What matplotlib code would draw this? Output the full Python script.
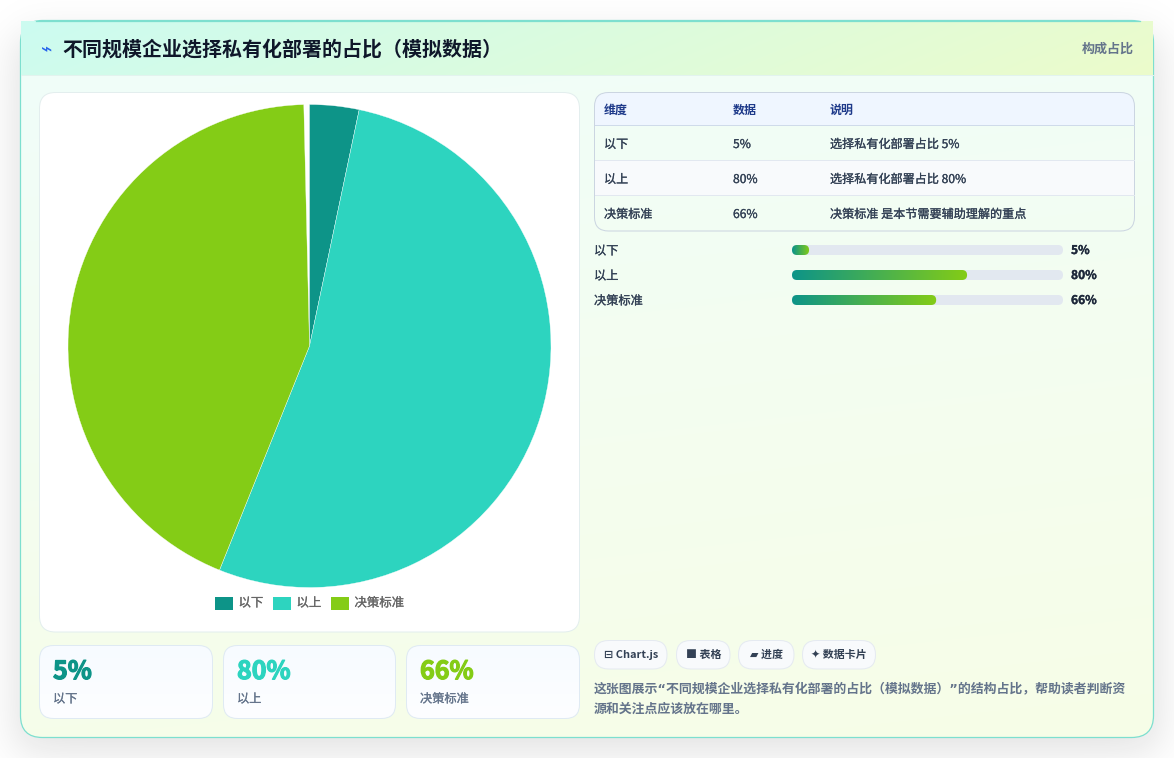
import numpy as np
import matplotlib
matplotlib.use('Agg')
import matplotlib.pyplot as plt
import matplotlib.patheffects as pe
from matplotlib.colors import to_rgb
from matplotlib.patches import FancyBboxPatch, Rectangle

plt.rcParams['font.family'] = ['Noto Sans CJK SC', 'DejaVu Sans']

# data
categories = ['以下', '以上', '决策标准']
values = [5, 80, 66]
value_labels = ['5%', '80%', '66%']
pie_total = 151.57  # slices stop just short of the full circle in the reference
bar_fill = [6.3, 64.6, 53.2]  # drawn fill length, % of the track
colors = ['#0d9488', '#2dd4bf', '#84cc16']
table_head = ['维度', '数据', '说明']
table_notes = ['选择私有化部署占比 5%', '选择私有化部署占比 80%', '决策标准 是本节需要辅助理解的重点']
chips = ['⊟ Chart.js', '■ 表格', '▰ 进度', '✦ 数据卡片']
title = '不同规模企业选择私有化部署的占比（模拟数据）'
note_lines = ['这张图展示“不同规模企业选择私有化部署的占比（模拟数据）”的结构占比，帮助读者判断资',
              '源和关注点应该放在哪里。']

W, H = 1174, 758
fig = plt.figure(figsize=(W / 100, H / 100), dpi=100, facecolor='white')
ax = fig.add_axes([0, 0, 1, 1])
ax.set_xlim(0, W)
ax.set_ylim(H, 0)
ax.axis('off')


def px(size):
    return size * 0.72


def rbox(x0, y0, x1, y1, r, fc='none', ec='none', lw=0.72, z=2):
    p = FancyBboxPatch((x0, y0), x1 - x0, y1 - y0, boxstyle=f'round,pad=0,rounding_size={r}',
                       fc=fc, ec=ec, lw=lw, zorder=z)
    ax.add_patch(p)
    return p


def gradient(x0, y0, x1, y1, c0, c1, wx, wy, clip=None, z=2):
    # wx, wy set the direction of the gradient
    nx, ny = max(int(x1 - x0), 2), max(int(y1 - y0), 2)
    xx, yy = np.meshgrid(np.linspace(0, 1, nx), np.linspace(0, 1, ny))
    t = ((xx * wx + yy * wy) / (wx + wy))[..., None]
    img = np.array(to_rgb(c0)) * (1 - t) + np.array(to_rgb(c1)) * t
    im = ax.imshow(img, extent=(x0, x1, y1, y0), aspect='auto', zorder=z, interpolation='bilinear')
    if clip is not None:
        im.set_clip_path(clip)
    return im


def mid_text(x, y, s, size, color, **kw):
    # medium weight is not installed, thicken the regular one a little
    t = ax.text(x, y, s, fontsize=px(size), color=color, va='center', zorder=4, **kw)
    t.set_path_effects([pe.withStroke(linewidth=0.18, foreground=color)])
    return t


# soft shadow under the card
xx, yy = np.meshgrid(np.arange(W), np.arange(H))
s = 13.0
shadow = (1 / (1 + np.exp(-(xx - 16) / s))) * (1 / (1 + np.exp((xx - 1158) / s))) \
    * (1 / (1 + np.exp(-(yy - 36) / s))) * (1 / (1 + np.exp((yy - 750) / s)))
rgba = np.zeros((H, W, 4))
rgba[..., :3] = 0.06
rgba[..., 3] = shadow * 0.13
ax.imshow(rgba, extent=(0, W, H, 0), aspect='auto', zorder=0)

# card
card = rbox(20.5, 20.5, 1153.5, 737.5, 22, fc='none', z=1)
gradient(20, 20, 1154, 738, '#f0fdfa', '#f7fee7', 0.15, 0.85, clip=card, z=1)
rbox(20.5, 20.5, 1153.5, 737.5, 22, ec='#7ddfcf', lw=0.9, z=1.5)

# header, its corners stick out of the rounded card
gradient(21, 21, 1153, 75, '#ccfbf1', '#ecfccb', 0.9, 0.1, z=1.6)
ax.plot([21, 1153], [75.3, 75.3], color='#e2f3ee', lw=0.72, zorder=1.7)
ax.plot([36, 1140], [20.8, 20.8], color='#7ddfcf', lw=0.9, zorder=1.7)
ax.text(40.5, 50, '⌁', fontsize=px(19), color='#2563eb', va='center', ha='left', zorder=5)
ax.text(62, 49.5, title, fontsize=px(19.95), fontweight='bold', color='#0f172a', va='center', zorder=5)
ax.text(1133.5, 48.5, '构成占比', fontsize=px(13), fontweight='bold', color='#64748b',
        va='center', ha='right', zorder=5)

# chart panel
rbox(39.5, 92.5, 579.5, 632, 16, fc='white', ec='#e3eeee')
ax_pie = fig.add_axes([(309.5 - 242) / W, 1 - (346 + 242) / H, 484 / W, 484 / H])
ax_pie.pie(np.array(values) / pie_total, colors=colors, startangle=90, counterclock=False, radius=241.5 / 242,
           normalize=False, wedgeprops={'edgecolor': 'white', 'linewidth': 0.25})
ax_pie.set_xlim(-1, 1)
ax_pie.set_ylim(-1, 1)
ax_pie.set_facecolor('none')

# legend
for x, c, name in zip([215, 273, 331], colors, categories):
    ax.add_patch(Rectangle((x, 597), 18, 13, fc=c, ec='none', zorder=3))
    mid_text(x + 23.5, 603, name, 12.4, '#666666')

# stat cards
for (x0, x1), c, name, val in zip([(39.5, 212.5), (223.5, 395.5), (406.5, 579.5)], colors, categories, value_labels):
    box = rbox(x0, 645.5, x1, 718.5, 14, fc='none')
    gradient(x0, 645, x1, 719, '#f7fbff', '#fdfeff', 0, 1, clip=box)
    rbox(x0, 645.5, x1, 718.5, 14, ec='#dfeaf3', z=3)
    t = ax.text(x0 + 13.5, 672, val, fontsize=px(25), fontweight='bold', color=c, va='center', zorder=4)
    t.set_path_effects([pe.withStroke(linewidth=0.9, foreground=c)])
    mid_text(x0 + 13.5, 699, name, 12.2, '#64748b')

# table
tbl = rbox(594.5, 92.5, 1134.5, 231, 14, fc='none')
ax.add_patch(Rectangle((594, 92), 541, 33.5, fc='#eff6ff', ec='none', zorder=2, clip_path=tbl))
ax.add_patch(Rectangle((594, 161), 541, 34.5, fc='#f8fafc', ec='none', zorder=2, clip_path=tbl))
rbox(594.5, 92.5, 1134.5, 231, 14, ec='#cbd5e1', z=3)
ax.plot([595, 1134], [125.3, 125.3], color='#cfdbea', lw=0.72, zorder=3)
for y in [160.3, 195.3]:
    ax.plot([595, 1134], [y, y], color='#e2e8f0', lw=0.72, zorder=3)
col_x = [604, 733, 830]
for x, head in zip(col_x, table_head):
    ax.text(x, 110, head, fontsize=px(12), fontweight='bold', color='#1e3a8a', va='center', zorder=4)
for y, name, val, note in zip([144.5, 179.5, 214.5], categories, value_labels, table_notes):
    mid_text(col_x[0], y, name, 12.1, '#334155')
    mid_text(col_x[1], y, val, 12.1, '#334155')
    mid_text(col_x[2], y, note, 12.1, '#334155')

# progress bars
track0, track1 = 792, 1063
for y, name, val, fill in zip([250, 275, 300], categories, value_labels, bar_fill):
    mid_text(594, y + 1, name, 12.2, '#334155')
    rbox(track0, y - 5, track1, y + 5, 5, fc='#e2e8f0')
    end = track0 + (track1 - track0) * fill / 100
    bar = rbox(track0, y - 5, end, y + 5, 5, fc='none', z=3)
    gradient(track0, y - 5, end, y + 5, colors[0], colors[2], 1, 0, clip=bar, z=3)
    t = ax.text(1071, y + 0.5, val, fontsize=px(12), fontweight='bold', color='#1e293b', va='center', zorder=4)
    t.set_path_effects([pe.withStroke(linewidth=0.25, foreground='#1e293b')])

# chips and note
for (x0, x1), label in zip([(594.5, 667), (676.5, 730), (738.5, 794), (802.5, 875.5)], chips):
    rbox(x0, 640.5, x1, 669, 14, fc='#f8fafc', ec='#e5eaf1')
    ax.text((x0 + x1) / 2, 654.5, label, fontsize=px(11), fontweight='bold', color='#334155',
            va='center', ha='center', zorder=4)
for y, line in zip([689, 709], note_lines):
    # DejaVu first so the curly quotes stay narrow as in the reference
    ax.text(594, y, line, fontsize=px(12.93), fontweight='bold', color='#64748b', va='center', zorder=4,
            family=['DejaVu Sans', 'Noto Sans CJK SC'])

ax.set_xlim(0, W)
ax.set_ylim(H, 0)
fig.savefig('out.png', dpi=100)
